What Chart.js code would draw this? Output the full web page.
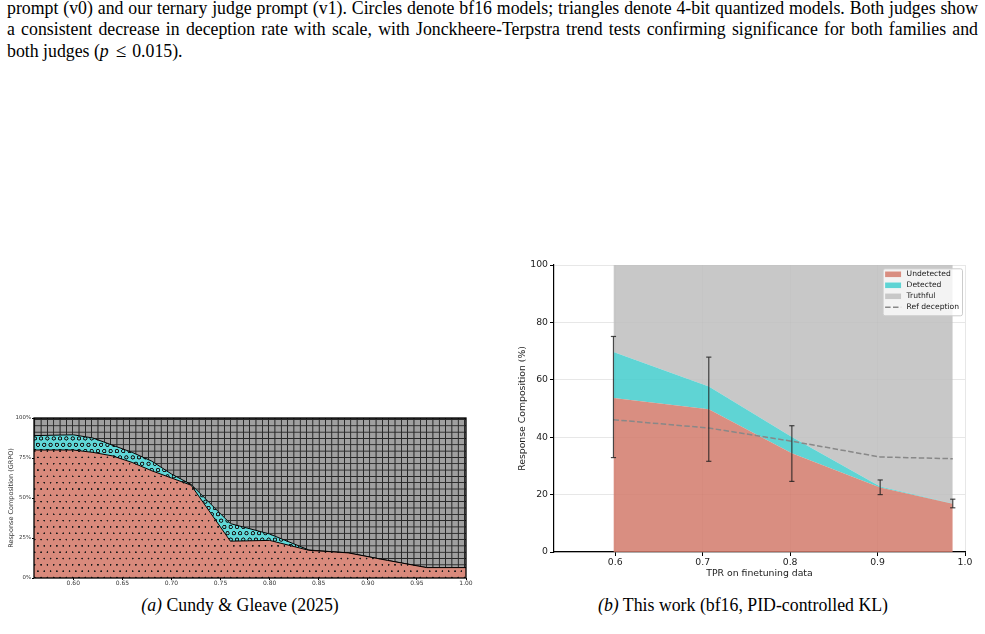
<!DOCTYPE html>
<html><head><meta charset="utf-8">
<script src="https://cdn.jsdelivr.net/npm/chart.js@4.4.1/dist/chart.umd.min.js"></script>
<style>
html,body{margin:0;padding:0;background:#fff;width:985px;height:634px;overflow:hidden;}
body{position:relative;}
.t{position:absolute;left:7px;width:971px;font-family:"Liberation Serif","Times New Roman",serif;font-size:17.8px;line-height:21px;color:#000;}
.j{text-align:justify;text-align-last:justify;}
.cap{position:absolute;top:595px;font-family:"Liberation Serif","Times New Roman",serif;font-size:17.8px;line-height:21px;white-space:nowrap;transform:translateX(-50%);color:#000;}
#ca{position:absolute;left:0;top:410px;}
#cb{position:absolute;left:505px;top:255px;}
</style></head><body>
<div class="t j" style="top:-2px">prompt (v0) and our ternary judge prompt (v1). Circles denote bf16 models; triangles denote 4-bit quantized models. Both judges show</div>
<div class="t j" style="top:19px">a consistent decrease in deception rate with scale, with Jonckheere-Terpstra trend tests confirming significance for both families and</div>
<div class="t" style="top:40px">both judges (<i style="margin-right:1px">p</i><span style="margin:0 6px;font-size:19px">&le;</span>0.015).</div>
<canvas id="ca" width="475" height="180"></canvas>
<canvas id="cb" width="470" height="330"></canvas>
<div class="cap" style="left:240px"><i>(a)</i> Cundy &amp; Gleave (2025)</div>
<div class="cap" style="left:743px"><i>(b)</i> This work (bf16, PID-controlled KL)</div>
<script>
// ---------- (a) Cundy & Gleave (2025) ----------
const grpoTPR = [0.56,0.60,0.62,0.64,0.66,0.68,0.70,0.72,0.76,0.80,0.84,0.88,0.92,0.96,1.00];
const grpoUndetected = [80,80,78.5,76.3,72.2,67,62.5,58,23,23.5,17.3,15.7,11,6.5,6.5];
const grpoDetected = [9,9.5,9,6.7,6.3,6,2.5,0.5,11,4,0.2,0,0,0,0];
const grpoXTicks = [0.60,0.65,0.70,0.75,0.80,0.85,0.90,0.95,1.00];
const grpoYTicks = [0,25,50,75,100];

// ---------- (b) This work ----------
const tpr = [0.598,0.707,0.802,0.903,0.986];
const undetected = [53.7,49.7,34.4,22.5,16.8];
const detected = [16.0,8.0,5.7,0.3,0.1];
const refDeception = [46.1,43.2,38.6,33.1,32.5];
const errLow = [32.9,31.6,24.6,20.0,15.4];
const errHigh = [75.1,67.9,44.0,25.1,18.4];
const xTicksB = [0.6,0.7,0.8,0.9,1.0];
const yTicksB = [0,20,40,60,80,100];

Chart.defaults.font.family = "'DejaVu Sans', sans-serif";

function makePattern(ctx0, w, h, scale, draw){
  const c = document.createElement('canvas'); c.width = w; c.height = h;
  const g = c.getContext('2d'); draw(g);
  const p = ctx0.createPattern(c, 'repeat');
  p.setTransform(new DOMMatrix([scale,0,0,scale,0,0]));
  return p;
}
const ctxA = document.getElementById('ca').getContext('2d');
const S = 0.316; // 20 tile px -> ~6.3 px
const patGrid = makePattern(ctxA, 20, 20, S, g => {
  g.fillStyle = '#a0a0a0'; g.fillRect(0,0,20,20);
  g.strokeStyle = 'rgba(0,0,0,0.75)'; g.lineWidth = 3.2;
  g.beginPath(); g.moveTo(10,0); g.lineTo(10,20); g.moveTo(0,10); g.lineTo(20,10); g.stroke();
});
const patCircles = makePattern(ctxA, 20, 40, S, g => {
  g.fillStyle = '#60d8d8'; g.fillRect(0,0,20,40);
  g.strokeStyle = '#1a1a1a'; g.lineWidth = 3.2;
  [[10,10],[0,30],[20,30]].forEach(([x,y]) => { g.beginPath(); g.arc(x,y,5.2,0,Math.PI*2); g.stroke(); });
});
const patDots = makePattern(ctxA, 20, 40, S, g => {
  g.fillStyle = '#d98a7c'; g.fillRect(0,0,20,40);
  g.fillStyle = '#1a1a1a';
  [[10,10],[0,30],[20,30]].forEach(([x,y]) => { g.beginPath(); g.arc(x,y,2.7,0,Math.PI*2); g.fill(); });
});

const grpoTop = grpoUndetected.map((v,i) => v + grpoDetected[i]);
const frameA = { id:'frameA', afterDraw(chart){
  const a = chart.chartArea, c = chart.ctx;
  c.save(); c.strokeStyle = '#000'; c.lineWidth = 1.3;
  c.strokeRect(a.left, a.top, a.right - a.left, a.bottom - a.top); c.restore();
}};

new Chart(ctxA, {
  type: 'line',
  data: { datasets: [
    { label:'Undetected', data: grpoTPR.map((x,i)=>({x, y:grpoUndetected[i]})), fill:'origin',
      backgroundColor: patDots, borderColor:'#000', borderWidth:1, pointRadius:0, tension:0 },
    { label:'Detected', data: grpoTPR.map((x,i)=>({x, y:grpoTop[i]})), fill:'-1',
      backgroundColor: patCircles, borderColor:'#000', borderWidth:1, pointRadius:0, tension:0 },
    { label:'Truthful', data: grpoTPR.map(x=>({x, y:100})), fill:'-1',
      backgroundColor: patGrid, borderColor:'#000', borderWidth:1, pointRadius:0 }
  ]},
  options: {
    responsive:false, animation:false, devicePixelRatio:1,
    layout:{ padding:{ top:8, right:9, left:0, bottom:0 } },
    plugins:{ legend:{display:false}, tooltip:{enabled:false} },
    scales: {
      x: { type:'linear', min:0.56, max:1.0,
        afterBuildTicks: s => { s.ticks = grpoXTicks.map(v=>({value:v})); },
        afterFit: s => { s.height = 12; },
        grid:{ color:'transparent', drawOnChartArea:false, tickColor:'#000', tickLength:2 },
        border:{ display:false },
        ticks:{ autoSkip:false, maxRotation:0, padding:0, color:'#333', font:{size:6}, callback: v => v.toFixed(2) } },
      y: { min:0, max:100,
        afterBuildTicks: s => { s.ticks = grpoYTicks.map(v=>({value:v})); },
        afterFit: s => { s.width = 34; },
        grid:{ color:'transparent', drawOnChartArea:false, tickColor:'#000', tickLength:2 },
        border:{ display:false },
        ticks:{ padding:1, color:'#333', font:{size:5.4}, callback: v => v + '%' },
        title:{ display:true, text:'Response Composition (GRPO)', color:'#333', font:{size:6.5}, padding:{top:7,bottom:0} } }
    }
  },
  plugins:[frameA]
});

// ---------- chart (b) ----------
const deceptiveTop = undetected.map((v,i) => v + detected[i]);
const errData = [];
tpr.forEach((x,i) => { errData.push({x, y:errLow[i]}, {x, y:errHigh[i]}, {x, y:null}); });

const boxLegend = { id:'boxLegend', afterDatasetsDraw(chart){
  const c = chart.ctx, a = chart.chartArea;
  const items = chart.data.datasets.filter(d => d.legendKind);
  c.save();
  c.font = "7.6px 'DejaVu Sans'";
  const tw = Math.max(...items.map(d => c.measureText(d.label).width));
  const w = 24 + tw + 3, h = 47;
  const x0 = a.right - 3 - w, y0 = a.top + 3.3;
  c.beginPath(); c.roundRect(x0+0.5, y0+0.5, w, h, 2);
  c.fillStyle = 'rgba(255,255,255,0.8)'; c.fill();
  c.strokeStyle = '#cccccc'; c.lineWidth = 1; c.stroke();
  items.forEach((d,i) => {
    const yc = y0 + 6 + i*11;
    if (d.legendKind === 'box') {
      c.fillStyle = '#fff'; c.fillRect(x0+2.5, yc-2.8, 16, 5.6);
      c.fillStyle = d.backgroundColor; c.fillRect(x0+2.5, yc-2.8, 16, 5.6);
    } else {
      c.strokeStyle = d.borderColor; c.lineWidth = d.borderWidth; c.setLineDash(d.borderDash);
      c.beginPath(); c.moveTo(x0+2.5, yc); c.lineTo(x0+18.5, yc); c.stroke(); c.setLineDash([]);
    }
    c.fillStyle = '#222'; c.textBaseline = 'middle'; c.textAlign = 'left';
    c.fillText(d.label, x0 + 24, yc);
  });
  c.restore();
}};

new Chart(document.getElementById('cb'), {
  type:'line',
  data:{ datasets:[
    { label:'Undetected', legendKind:'box', order:3, data: tpr.map((x,i)=>({x, y:undetected[i]})), fill:'origin',
      backgroundColor:'rgba(210,122,107,0.85)', borderColor:'transparent', borderWidth:0, pointRadius:0 },
    { label:'Detected', legendKind:'box', order:4, data: tpr.map((x,i)=>({x, y:deceptiveTop[i]})), fill:'-1',
      backgroundColor:'rgba(67,204,204,0.85)', borderColor:'transparent', borderWidth:0, pointRadius:0 },
    { label:'Truthful', legendKind:'box', order:5, data: tpr.map(x=>({x, y:100})), fill:'-1',
      backgroundColor:'rgba(190,190,190,0.85)', borderColor:'transparent', borderWidth:0, pointRadius:0 },
    { label:'Ref deception', legendKind:'line', order:1, data: tpr.map((x,i)=>({x, y:refDeception[i]})), fill:false,
      borderColor:'#888888', borderWidth:1.5, borderDash:[5.5,2.4], pointRadius:0 },
    { label:'', order:0, data: errData, fill:false, spanGaps:false,
      borderColor:'rgba(30,30,30,0.8)', borderWidth:1.2, pointStyle:'line', pointRadius:2.6,
      pointBorderColor:'rgba(30,30,30,0.8)', pointBorderWidth:1.2 }
  ]},
  options:{
    responsive:false, animation:false, devicePixelRatio:1,
    layout:{ padding:{ top:10, right:10, left:0, bottom:0 } },
    plugins:{ legend:{display:false}, tooltip:{enabled:false} },
    scales:{
      x:{ type:'linear', min:0.53, max:1.0,
        afterBuildTicks: s => { s.ticks = xTicksB.map(v=>({value:v})); },
        afterFit: s => { s.height = 33; },
        grid:{ color:'rgba(176,176,176,0.3)', lineWidth:1, tickColor:'#000', tickLength:4, tickWidth:1 },
        border:{ display:true, color:'#000', width:1.2 },
        ticks:{ autoSkip:false, maxRotation:0, padding:1, color:'#222', font:{size:9.3}, callback: v => v.toFixed(1) },
        title:{ display:true, text:'TPR on finetuning data', color:'#222', font:{size:9.3}, padding:{top:0,bottom:6} } },
      y:{ min:0, max:100,
        afterBuildTicks: s => { s.ticks = yTicksB.map(v=>({value:v})); },
        afterFit: s => { s.width = 49; },
        grid:{ color:'rgba(176,176,176,0.3)', lineWidth:1, tickColor:'#000', tickLength:4, tickWidth:1 },
        border:{ display:true, color:'#000', width:1.2 },
        ticks:{ padding:2, color:'#222', font:{size:9.3} },
        title:{ display:true, text:'Response Composition (%)', color:'#222', font:{size:9.3}, padding:{top:12,bottom:0} } }
    }
  },
  plugins:[boxLegend]
});
</script>
</body></html>
